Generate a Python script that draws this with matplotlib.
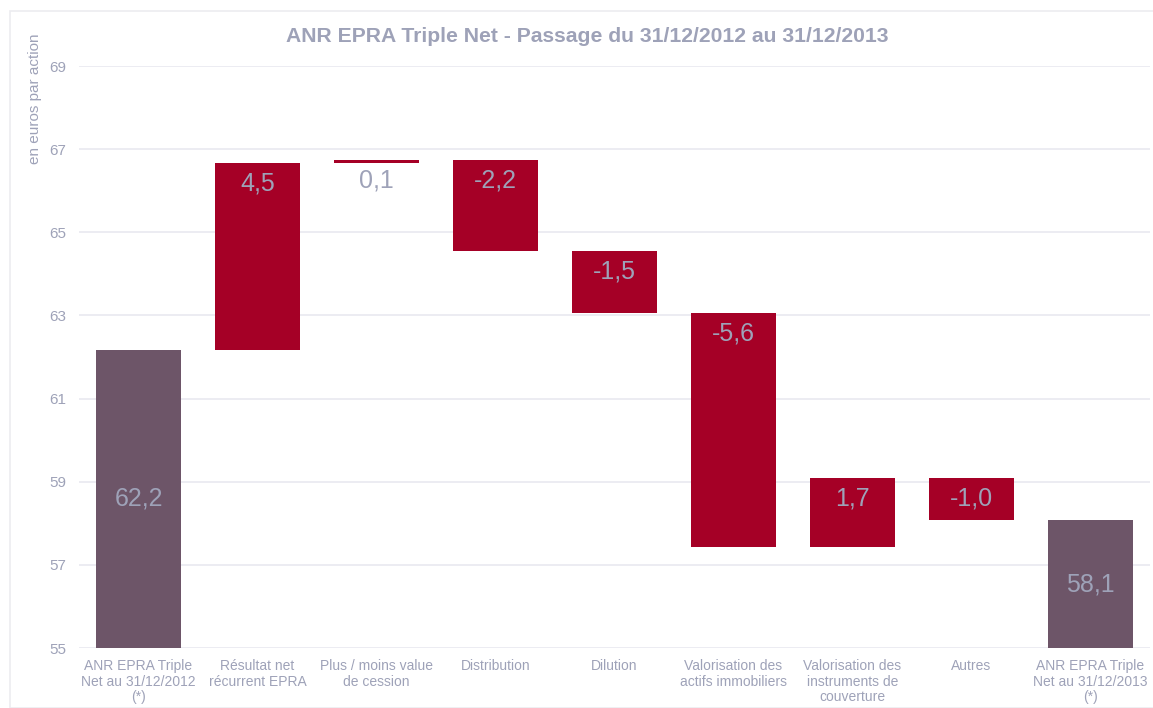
import numpy as np
import matplotlib.pyplot as plt
from matplotlib.patches import Rectangle

# Données
categories = [
    "ANR EPRA Triple\nNet au 31/12/2012\n(*)",
    "Résultat net\nrécurrent EPRA",
    "Plus / moins value\nde cession",
    "Distribution",
    "Dilution",
    "Valorisation des\nactifs immobiliers",
    "Valorisation des\ninstruments de\ncouverture",
    "Autres",
    "ANR EPRA Triple\nNet au 31/12/2013\n(*)",
]
start_value = 62.17
deltas = [4.5, 0.08, -2.2, -1.48, -5.63, 1.66, -1.01]
end_value = 58.07
value_labels = ["62,2", "4,5", "0,1", "-2,2", "-1,5", "-5,6", "1,7", "-1,0", "58,1"]

y_min, y_max = 55, 69

# Couleurs
c_total = "#6d5568"
c_step = "#a50026"
c_text = "#9ea2b8"
c_grid = "#e9e9f0"

# Calcul des barres (cascade)
levels = np.concatenate([[start_value], start_value + np.cumsum(deltas)])
lows = [y_min] + [min(levels[i], levels[i + 1]) for i in range(len(deltas))] + [y_min]
highs = [start_value] + [max(levels[i], levels[i + 1]) for i in range(len(deltas))] + [end_value]
colors = [c_total] + [c_step] * len(deltas) + [c_total]

fig = plt.figure(figsize=(11.53, 7.08), dpi=100)
plt.rcParams['font.family'] = ['Liberation Sans', 'DejaVu Sans']

# cadre léger autour du graphique
fig.patches.append(Rectangle((10 / 1153, 0), 1150 / 1153, 1 - 11 / 708,
                             transform=fig.transFigure, fill=False,
                             edgecolor="#ececf0", linewidth=1.2))

ax = fig.add_axes([79 / 1153, 60 / 708, 1071 / 1153, 582 / 708])
x = np.arange(len(categories))
heights = np.array(highs) - np.array(lows)
ax.bar(x, heights, bottom=lows, width=0.715, color=colors, zorder=3)

ax.set_xlim(-0.5, len(categories) - 0.5)
ax.set_ylim(y_min, y_max)
ax.set_yticks(np.arange(y_min, y_max + 1, 2))
ax.grid(axis="y", color=c_grid, linewidth=1.2, zorder=0)
for s in ax.spines.values():
    s.set_visible(False)
ax.tick_params(axis="both", length=0, colors=c_text)
ax.tick_params(axis="y", pad=9, labelsize=11)
ax.tick_params(axis="x", pad=8, labelsize=10)
ax.set_xticks(x)
ax.set_xticklabels(categories, color=c_text, fontsize=10, linespacing=1.15)

# étiquettes de valeurs
for i in range(len(categories)):
    if i == 0 or i == len(categories) - 1:
        ax.text(x[i], (lows[i] + highs[i]) / 2, value_labels[i], ha="center", va="center",
                color=c_text, fontsize=18, zorder=4)
    else:
        ax.annotate(value_labels[i], (x[i], highs[i]), xytext=(0, -21),
                    textcoords="offset pixels", ha="center", va="center",
                    color=c_text, fontsize=18, zorder=4)

fig.text(587 / 1153, 1 - 37 / 708, "ANR EPRA Triple Net - Passage du 31/12/2012 au 31/12/2013",
         ha="center", va="center", fontsize=15.2, fontweight="bold", color=c_text)
fig.text(35 / 1153, 1 - 33 / 708, "en euros par action", rotation=90, ha="center", va="top",
         fontsize=11, color=c_text)

fig.savefig("out.png", dpi=100)
